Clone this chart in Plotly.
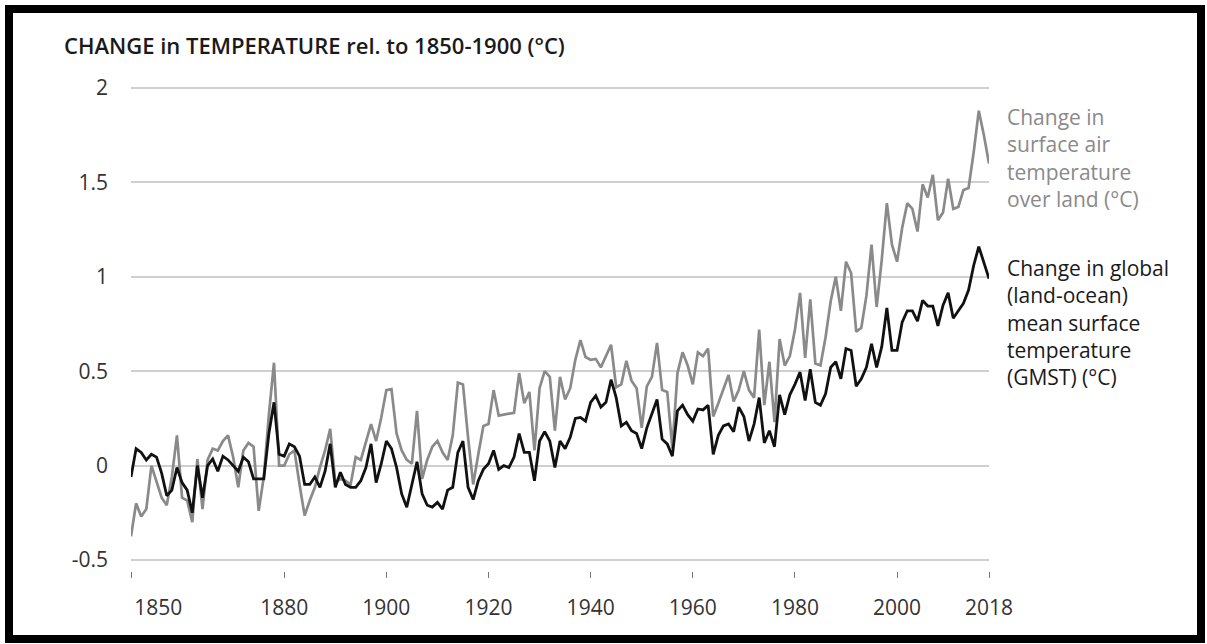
import plotly.graph_objects as go

years = list(range(1850, 2019))

gmst = [
    -0.06, 0.09, 0.07, 0.03, 0.06, 0.045, -0.04, -0.16, -0.13, -0.01,
    -0.09, -0.13, -0.25, 0.00, -0.17, 0.00, 0.035, -0.03, 0.05, 0.03,
    0.00, -0.03, 0.045, 0.02, -0.07, -0.07, -0.07, 0.17, 0.335, 0.06,
    0.05, 0.115, 0.10, 0.05, -0.10, -0.10, -0.06, -0.115, -0.03, 0.115,
    -0.115, -0.035, -0.10, -0.115, -0.115, -0.08, -0.01, 0.115, -0.09, 0.01,
    0.13, 0.09, -0.01, -0.15, -0.22, -0.10, 0.02, -0.15, -0.21, -0.22,
    -0.195, -0.23, -0.13, -0.115, 0.07, 0.13, -0.115, -0.18, -0.08, -0.02,
    0.01, 0.08, -0.02, 0.00, -0.01, 0.045, 0.17, 0.07, 0.07, -0.08,
    0.13, 0.18, 0.13, -0.01, 0.13, 0.09, 0.15, 0.25, 0.255, 0.235,
    0.335, 0.37, 0.31, 0.335, 0.455, 0.36, 0.21, 0.23, 0.185, 0.17,
    0.09, 0.20, 0.28, 0.35, 0.14, 0.115, 0.05, 0.29, 0.32, 0.27,
    0.235, 0.30, 0.295, 0.32, 0.06, 0.16, 0.21, 0.22, 0.18, 0.31,
    0.26, 0.13, 0.22, 0.36, 0.12, 0.185, 0.10, 0.375, 0.27, 0.375,
    0.43, 0.495, 0.345, 0.51, 0.335, 0.32, 0.38, 0.52, 0.55, 0.46,
    0.62, 0.61, 0.42, 0.46, 0.52, 0.645, 0.52, 0.63, 0.835, 0.61,
    0.61, 0.76, 0.82, 0.82, 0.765, 0.875, 0.845, 0.845, 0.74, 0.85,
    0.915, 0.78, 0.82, 0.86, 0.93, 1.06, 1.16, 1.08, 0.99,
]

land = [
    -0.375, -0.20, -0.27, -0.23, 0.00, -0.09, -0.17, -0.21, -0.06, 0.16,
    -0.17, -0.185, -0.30, 0.035, -0.23, 0.03, 0.09, 0.08, 0.13, 0.16,
    0.045, -0.115, 0.08, 0.12, 0.10, -0.24, -0.06, 0.27, 0.545, 0.00,
    0.00, 0.06, 0.08, -0.10, -0.265, -0.185, -0.115, -0.01, 0.08, 0.195,
    -0.09, -0.07, -0.08, -0.10, 0.045, 0.03, 0.12, 0.22, 0.13, 0.255,
    0.40, 0.405, 0.17, 0.08, 0.03, 0.01, 0.29, -0.07, 0.03, 0.10,
    0.13, 0.07, 0.03, 0.16, 0.44, 0.43, 0.15, -0.10, 0.06, 0.21,
    0.22, 0.40, 0.265, 0.27, 0.275, 0.28, 0.49, 0.33, 0.39, 0.08,
    0.41, 0.50, 0.47, 0.185, 0.47, 0.35, 0.41, 0.56, 0.665, 0.575,
    0.56, 0.565, 0.52, 0.585, 0.64, 0.415, 0.43, 0.555, 0.45, 0.41,
    0.20, 0.42, 0.47, 0.65, 0.40, 0.39, 0.09, 0.49, 0.60, 0.53,
    0.43, 0.60, 0.58, 0.62, 0.26, 0.33, 0.40, 0.48, 0.34, 0.40,
    0.50, 0.40, 0.36, 0.72, 0.32, 0.55, 0.23, 0.67, 0.53, 0.58,
    0.72, 0.915, 0.57, 0.88, 0.54, 0.53, 0.68, 0.87, 1.00, 0.82,
    1.08, 1.02, 0.71, 0.73, 0.90, 1.17, 0.84, 1.09, 1.39, 1.17,
    1.08, 1.26, 1.39, 1.36, 1.24, 1.49, 1.42, 1.54, 1.30, 1.34,
    1.52, 1.36, 1.37, 1.46, 1.47, 1.66, 1.88, 1.75, 1.60,
]

x_tick_years = [1850, 1880, 1900, 1920, 1940, 1960, 1980, 2000, 2018]
x_tick_labels = ["1850", "1880", "1900", "1920", "1940", "1960", "1980", "2000", "2018"]
y_tick_values = [-0.5, 0, 0.5, 1, 1.5, 2]
y_tick_labels = ["-0.5", "0", "0.5", "1", "1.5", "2"]

title_text = "CHANGE in TEMPERATURE rel. to 1850-1900 (°C)"
land_label = ["Change in", "surface air", "temperature", "over land (°C)"]
gmst_label = ["Change in global", "(land-ocean)", "mean surface", "temperature", "(GMST) (°C)"]

GRAY = "#8a8a8a"
BLACK = "#111111"
FONT = "Open Sans"

# layout geometry (pixels)
W, H = 1207, 644
L, R = 131, 989
T, B = 86, 571

fig = go.Figure()
fig.add_trace(go.Scatter(x=years, y=land, mode="lines",
                         line=dict(color=GRAY, width=2.7), hoverinfo="skip"))
fig.add_trace(go.Scatter(x=years, y=gmst, mode="lines",
                         line=dict(color=BLACK, width=2.8), hoverinfo="skip"))

# x tick labels: first label drawn to the right of its tick
tt = list(x_tick_labels)
tt[0] = "\u00a0" * 10 + tt[0]

fig.update_xaxes(range=[1850, 2018], tickmode="array", tickvals=x_tick_years, ticktext=tt,
                 showgrid=False, zeroline=False, showline=False,
                 ticks="outside", ticklen=6, tickwidth=1, tickcolor="#777",
                 ticklabelstandoff=12,
                 tickfont=dict(family=FONT, size=21, color="#333"))
fig.update_yaxes(range=[-0.5583, 2.0106], tickmode="array", tickvals=y_tick_values,
                 ticktext=y_tick_labels, showgrid=True, gridcolor="#cfcfcf", gridwidth=1.5,
                 zeroline=False, showline=False, ticks="", ticklabelstandoff=22,
                 tickfont=dict(family=FONT, size=21, color="#333"))

def px_x(px):
    return (px - L) / (R - L)

def px_y(py):
    return (B - py) / (B - T)

annotations = [
    dict(text=title_text, xref="paper", yref="paper", x=px_x(62), y=px_y(45),
         xanchor="left", yanchor="middle", showarrow=False,
         font=dict(family=FONT, size=22, color="#1a1a1a", weight=600)),
    dict(text="<br>".join(land_label), xref="paper", yref="paper", x=px_x(1005), y=px_y(158),
         xanchor="left", yanchor="middle", align="left", showarrow=False,
         font=dict(family=FONT, size=21, color=GRAY)),
    dict(text="<br>".join(gmst_label), xref="paper", yref="paper", x=px_x(1005), y=px_y(322),
         xanchor="left", yanchor="middle", align="left", showarrow=False,
         font=dict(family=FONT, size=21, color="#1a1a1a")),
]

fig.update_layout(
    width=W, height=H, margin=dict(l=L, r=W - R, t=T, b=H - B, pad=0),
    paper_bgcolor="white", plot_bgcolor="white", showlegend=False,
    annotations=annotations,
    shapes=[dict(type="rect", xref="paper", yref="paper",
                 x0=px_x(9), x1=px_x(1201), y0=px_y(639), y1=px_y(9),
                 line=dict(color="black", width=8), fillcolor="rgba(0,0,0,0)", layer="above")],
)

fig.write_html("out.html", config={"displayModeBar": False},
               post_script="document.body.style.margin='0px';document.body.style.overflow='hidden';")
